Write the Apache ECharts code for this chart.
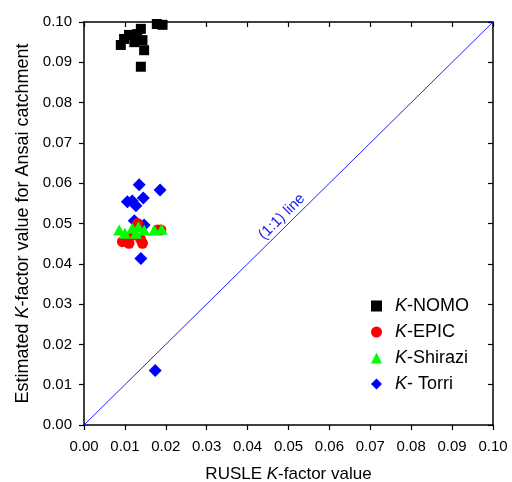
<!DOCTYPE html>
<html>
<head>
<meta charset="utf-8">
<script src="https://cdn.jsdelivr.net/npm/echarts@6/dist/echarts.min.js"></script>
<style>html,body{margin:0;padding:0;background:#fff}#c{width:512px;height:482px}</style>
</head>
<body>
<div id="c"></div>
<script>
// tick values (both axes)
const tickMin = 0, tickMax = 0.1, tickStep = 0.01;

// K-NOMO [RUSLE K, estimated K]
const nomo = [
  [0.0139, 0.0983], [0.0178, 0.0995], [0.0192, 0.0993], [0.0110, 0.0968],
  [0.0130, 0.0970], [0.0098, 0.0958], [0.0090, 0.0943], [0.0123, 0.0950],
  [0.0143, 0.0955], [0.0147, 0.0930], [0.0139, 0.0889]
];
// K-EPIC
const epic = [
  [0.0131, 0.0500], [0.0094, 0.0455], [0.0110, 0.0451], [0.0143, 0.0451],
  [0.0138, 0.0462], [0.0118, 0.0471], [0.0180, 0.0484], [0.0188, 0.0484],
  [0.0102, 0.0460]
];
// K-Shirazi
const shirazi = [
  [0.0086, 0.0484], [0.0118, 0.0488], [0.0133, 0.0492], [0.0147, 0.0484],
  [0.0172, 0.0484], [0.0190, 0.0486], [0.0127, 0.0476], [0.0100, 0.0476]
];
// K- Torri
const torri = [
  [0.0135, 0.0596], [0.0186, 0.0583], [0.0145, 0.0563], [0.0106, 0.0554],
  [0.0118, 0.0556], [0.0127, 0.0544], [0.0123, 0.0507], [0.0147, 0.0496],
  [0.0139, 0.0413], [0.0174, 0.0135]
];
// 1:1 reference line
const oneToOne = [[0, 0], [0.1, 0.1]];

const FONT = 'Liberation Sans, Arial, sans-serif';
const chart = echarts.init(document.getElementById('c'), null, {renderer: 'canvas'});

const axisCommon = {
  type: 'value', min: tickMin, max: tickMax, interval: tickStep,
  axisLine: {show: true, onZero: false, lineStyle: {color: '#000', width: 1.5}},
  splitLine: {show: false}
};

chart.setOption({
  animation: false,
  backgroundColor: '#fff',
  grid: {left: 84, right: 19, top: 22, bottom: 57, containLabel: false, outerBoundsMode: 'none'},
  xAxis: [
    Object.assign({}, axisCommon, {
      position: 'bottom',
      name: '{n|RUSLE }{i|K}{n|-factor value}',
      nameLocation: 'middle', nameGap: 41,
      nameTextStyle: {rich: {
        n: {fontFamily: FONT, fontSize: 17, color: '#000'},
        i: {fontFamily: FONT, fontSize: 17, color: '#000', fontStyle: 'italic'}
      }},
      axisTick: {show: true, inside: false, length: 5, lineStyle: {color: '#000', width: 1.2}},
      axisLabel: {margin: 14, fontFamily: FONT, fontSize: 15, color: '#000',
        formatter: v => v.toFixed(2)}
    }),
    Object.assign({}, axisCommon, {
      position: 'top',
      axisTick: {show: true, inside: true, length: 5, lineStyle: {color: '#000', width: 1.2}},
      axisLabel: {show: false}
    })
  ],
  yAxis: [
    Object.assign({}, axisCommon, {
      position: 'left',
      name: '{n|Estimated }{i|K}{n|-factor value for Ansai catchment}',
      nameLocation: 'middle', nameGap: 51, nameRotate: 90,
      nameTextStyle: {rich: {
        n: {fontFamily: FONT, fontSize: 18, color: '#000'},
        i: {fontFamily: FONT, fontSize: 18, color: '#000', fontStyle: 'italic'}
      }},
      axisTick: {show: true, inside: false, length: 5, lineStyle: {color: '#000', width: 1.2}},
      axisLabel: {margin: 12, fontFamily: FONT, fontSize: 15, color: '#000',
        formatter: v => v.toFixed(2)}
    }),
    Object.assign({}, axisCommon, {
      position: 'right',
      axisTick: {show: true, inside: true, length: 5, lineStyle: {color: '#000', width: 1.2}},
      axisLabel: {show: false}
    })
  ],
  legend: {
    orient: 'vertical', left: 366, top: 292,
    itemWidth: 11, itemHeight: 11, itemGap: 8,
    textStyle: {fontFamily: FONT, fontSize: 18, color: '#000', padding: [0, 0, 0, 8],
      rich: {
        n: {fontFamily: FONT, fontSize: 18, color: '#000'},
        i: {fontFamily: FONT, fontSize: 18, color: '#000', fontStyle: 'italic'}
      }},
    formatter: name => '{i|K}{n|' + name.slice(1) + '}',
    data: ['K-NOMO', 'K-EPIC', 'K-Shirazi', 'K- Torri']
  },
  series: [
    {
      name: 'K-NOMO', type: 'scatter', data: nomo, z: 4,
      symbol: 'rect', symbolSize: 10,
      itemStyle: {color: '#000000', opacity: 1}
    },
    {
      name: 'K-EPIC', type: 'scatter', data: epic, z: 3,
      symbol: 'circle', symbolSize: 11,
      itemStyle: {color: '#ff0000', opacity: 1}
    },
    {
      name: 'K-Shirazi', type: 'scatter', data: shirazi, z: 4,
      symbol: 'triangle', symbolSize: [12, 11],
      itemStyle: {color: '#00ff00', opacity: 1}
    },
    {
      name: 'K- Torri', type: 'scatter', data: torri, z: 2,
      symbol: 'diamond', symbolSize: 13,
      itemStyle: {color: '#0000ff', opacity: 1}
    },
    {
      name: '1:1', type: 'line', data: oneToOne, z: 1,
      symbol: 'none', silent: true,
      lineStyle: {color: '#2222ff', width: 1},
      markLine: {
        silent: true, symbol: 'none',
        lineStyle: {color: 'rgba(0,0,0,0)', width: 0},
        label: {show: true, position: 'insideMiddleTop', distance: 2,
          formatter: '(1:1) line', color: '#2020ee',
          fontFamily: FONT, fontSize: 15},
        data: [[{coord: oneToOne[0]}, {coord: oneToOne[1]}]]
      }
    }
  ]
});
</script>
</body>
</html>
